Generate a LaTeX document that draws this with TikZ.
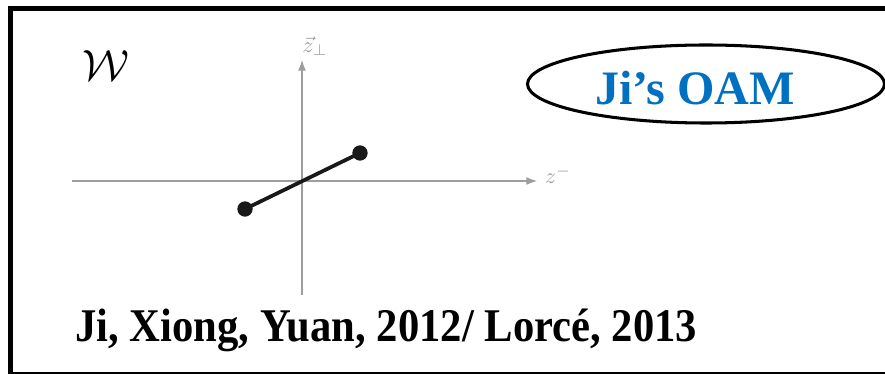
\documentclass[tikz,border=0pt]{standalone}
\usepackage{fontspec}
\setmainfont{Liberation Serif}
\usepackage{amsmath}
\usepackage{xcolor}
\usetikzlibrary{arrows.meta,positioning,shapes.geometric}

\definecolor{oamblue}{HTML}{0070C0}
\definecolor{axisgray}{gray}{0.62}

\begin{document}
\begin{tikzpicture}[
    x=0.03cm, y=-0.03cm,
    rahmen/.style={line width=4.5pt},
    achse/.style={draw=axisgray, line width=0.9pt, -{Latex[length=3.2mm, width=2.4mm]}},
    achslabel/.style={text=axisgray, font=\fontsize{10}{12}\selectfont, scale=1.9,
        transform shape, inner sep=1pt},
    punkt/.style={circle, fill=black!90, minimum size=4.6mm, inner sep=0pt},
    oval/.style={draw, ellipse, line width=2.6pt, minimum width=10.71cm,
        minimum height=2.34cm, inner sep=0pt}
]
    \clip (0,0) rectangle (885,374);
    \useasboundingbox (0,0) rectangle (885,374);
    \draw[rahmen] (10.5,380) -- (10.5,8.5) -- (900,8.5);
    \draw[rahmen] (10.5,374.5) -- (900,374.5);

    % Achsen
    \coordinate (xa) at (72,181);
    \coordinate (xe) at (537,181);
    \coordinate (ya) at (302,295);
    \coordinate (ye) at (302,60);
    \draw[achse] (xa) -- (xe);
    \draw[achse] (ya) -- (ye);
    \node[achslabel] (zperp) at (315,46) {$\vec{z}_{\perp}$};
    \node[achslabel] (zminus) at (558,175) {$z^{-}$};

    % Wilson-Linie
    \node[punkt] (p1) at (245,209) {};
    \node[punkt] (p2) at (360,153) {};
    \draw[line width=3.2pt, black!90] (p1.center) -- (p2.center);

    \node[font=\fontsize{20.74}{22}\selectfont, scale=1.8, transform shape, inner sep=0pt]
        (wlab) at (106,66) {$\mathcal{W}$};

    \node[oval] (ov) at (706,84) {};
    \node[text=oamblue, font=\fontsize{41}{44}\selectfont\bfseries, inner sep=0pt] (oam) at (695,88)
        {Ji’s OAM};

    \node[font=\fontsize{40}{44}\selectfont\bfseries, anchor=base west, inner sep=0pt,
        xscale=0.91] (zitat) at (75,342) {Ji, Xiong, Yuan, 2012/ Lorcé, 2013};
\end{tikzpicture}
\end{document}
